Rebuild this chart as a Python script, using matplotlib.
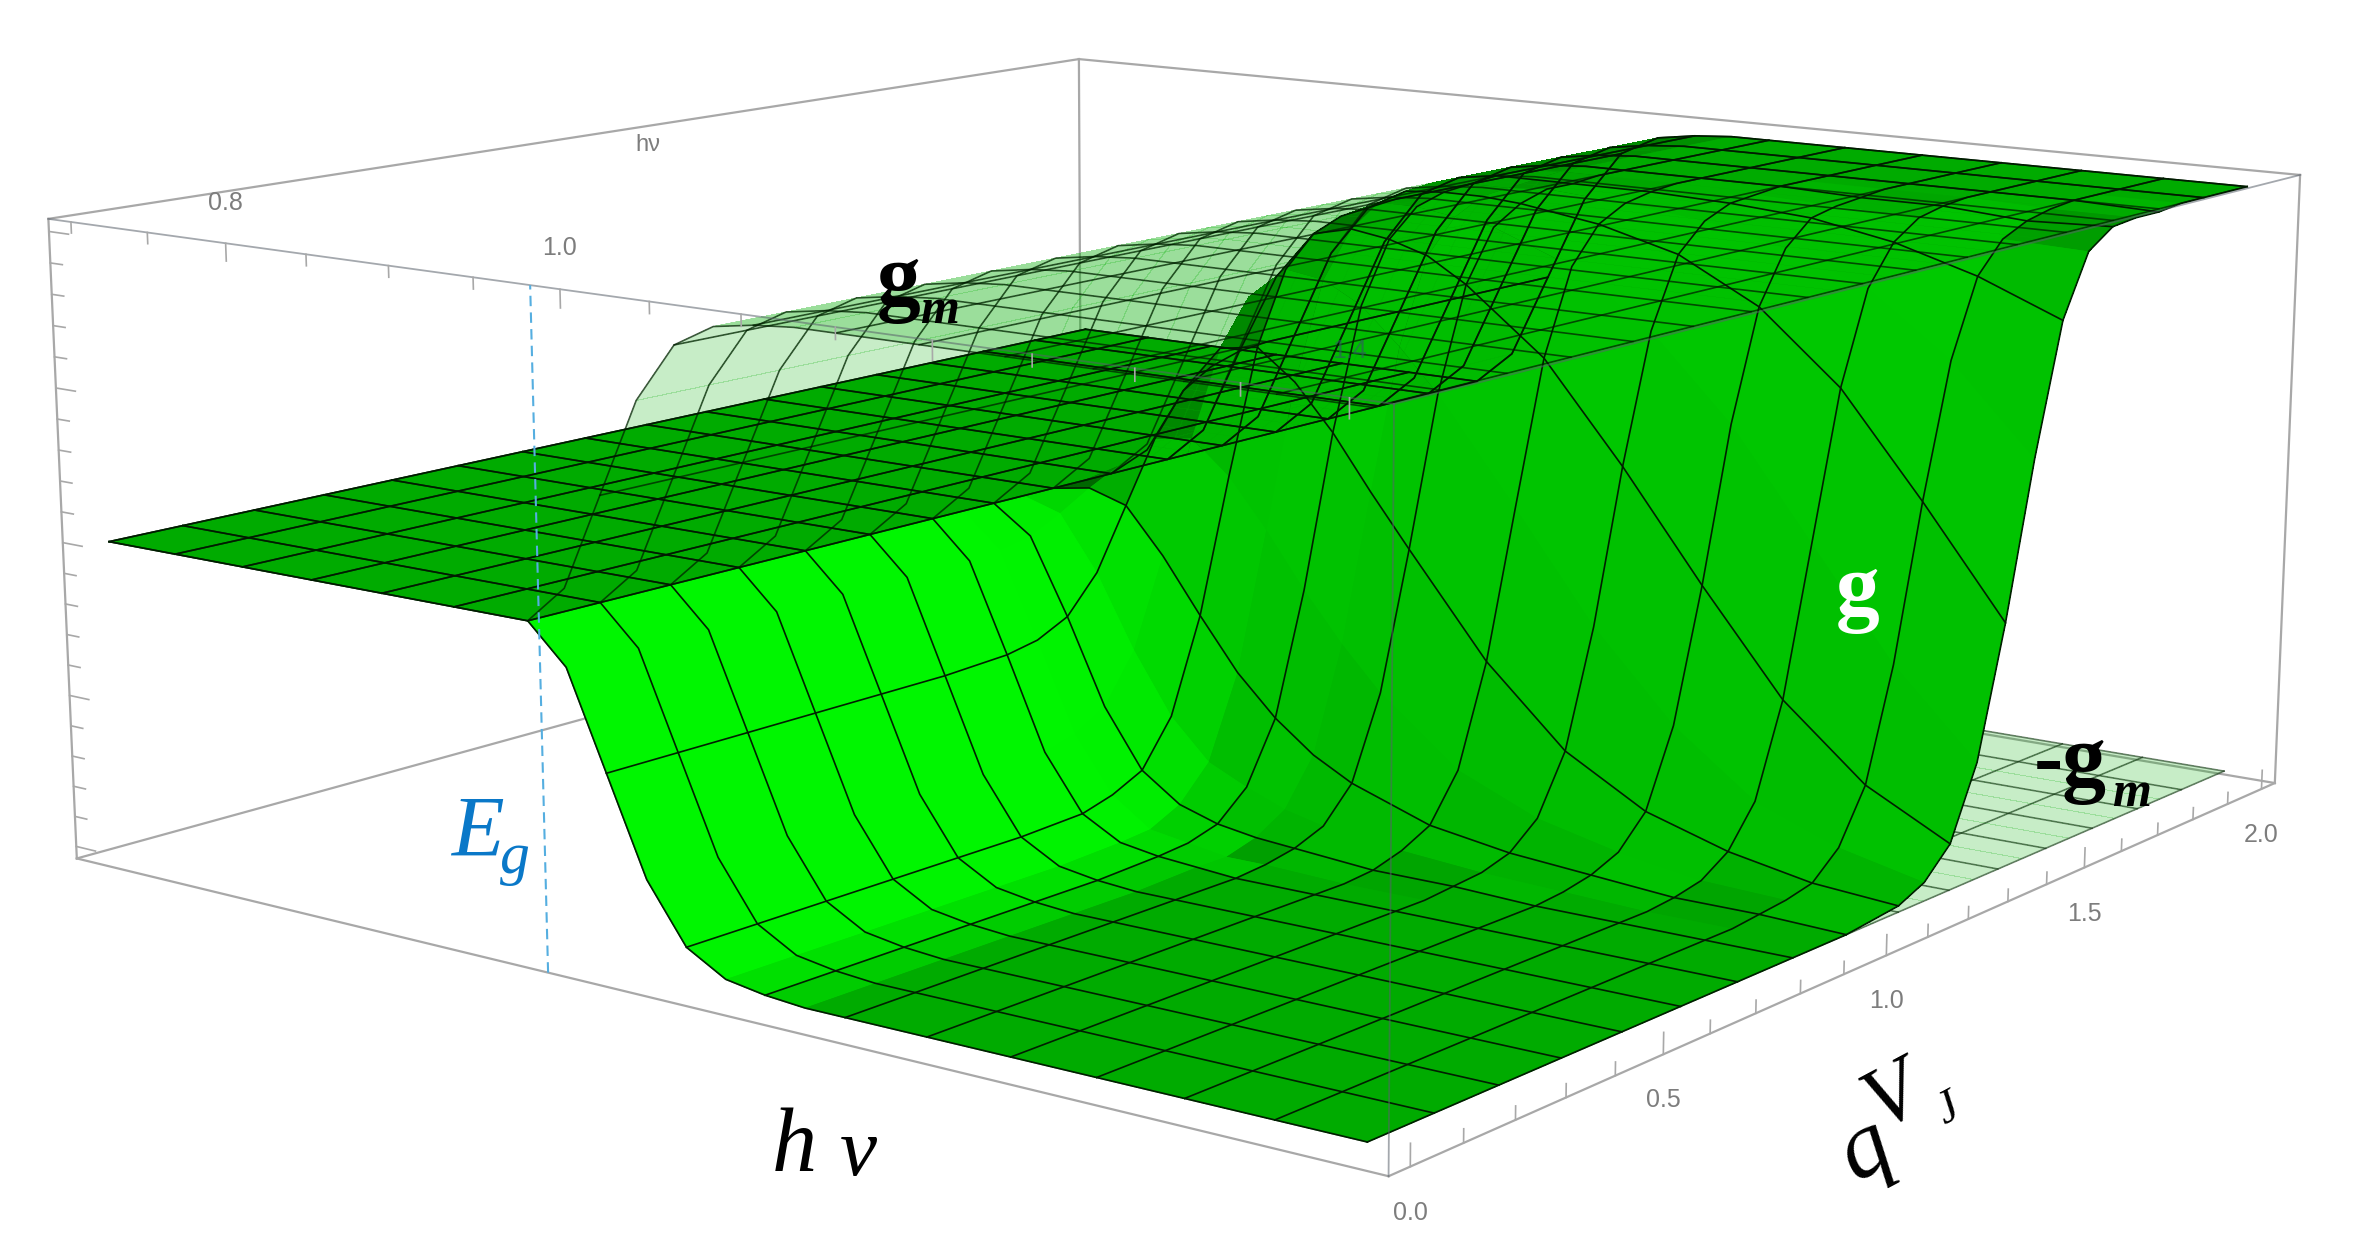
import numpy as np
import matplotlib
matplotlib.use("Agg")
import matplotlib.pyplot as plt
from matplotlib.colors import LightSource
from mpl_toolkits.mplot3d import proj3d

W, H = 2363, 1251

# mesh lines on the surfaces
hv_mesh = [0.7, 0.74375, 0.7875, 0.83125, 0.875, 0.91875, 0.9625, 1.00625, 1.05,
           1.09375, 1.1375, 1.18125, 1.225, 1.26875, 1.3125, 1.35625, 1.4]
qv_mesh = [0.0, 0.125, 0.25, 0.375, 0.5, 0.625, 0.75, 0.875, 1.0,
           1.125, 1.25, 1.375, 1.5, 1.625, 1.75, 1.875, 2.0]

# points where the surface height was read
hv_grid = [0.7, 0.74375, 0.7875, 0.83125, 0.875, 0.91875, 0.9625, 0.984375, 1.00625, 1.028125, 1.05,
           1.071875, 1.09375, 1.115625, 1.1375, 1.18125, 1.225, 1.26875, 1.3125, 1.35625, 1.4]
qv_grid = [0.0, 0.125, 0.25, 0.375, 0.5, 0.625, 0.75, 0.8125, 0.875, 0.9375, 1.0, 1.0625, 1.125, 1.1875,
           1.25, 1.3125, 1.375, 1.4375, 1.5, 1.5625, 1.625, 1.6875, 1.75, 1.8125, 1.875, 2.0]

gm_line = [0, 0, 0, 0, 0, 0, 0, 0.12, 0.42, 0.72, 0.90, 0.97, 0.99, 1, 1, 1, 1, 1, 1, 1, 1]

# g, one row per qv_grid value, columns from hv 0.984375 up; below that g stays 0
g_rows = [
    [-0.12, -0.42, -0.72, -0.90, -0.97, -0.99, -1.00, -1.00, -1.00, -1.00, -1.00, -1.00, -1.00, -1.00],
    [-0.12, -0.42, -0.72, -0.90, -0.97, -0.99, -1.00, -1.00, -1.00, -1.00, -1.00, -1.00, -1.00, -1.00],
    [-0.12, -0.42, -0.72, -0.90, -0.97, -0.99, -1.00, -1.00, -1.00, -1.00, -1.00, -1.00, -1.00, -1.00],
    [-0.12, -0.42, -0.72, -0.90, -0.97, -0.99, -1.00, -1.00, -1.00, -1.00, -1.00, -1.00, -1.00, -1.00],
    [-0.12, -0.42, -0.72, -0.90, -0.97, -0.99, -1.00, -1.00, -1.00, -1.00, -1.00, -1.00, -1.00, -1.00],
    [-0.12, -0.42, -0.72, -0.90, -0.97, -0.99, -1.00, -1.00, -1.00, -1.00, -1.00, -1.00, -1.00, -1.00],
    [-0.12, -0.41, -0.71, -0.89, -0.96, -0.98, -0.99, -1.00, -1.00, -1.00, -1.00, -1.00, -1.00, -1.00],
    [-0.11, -0.39, -0.68, -0.86, -0.95, -0.97, -0.99, -0.99, -1.00, -1.00, -1.00, -1.00, -1.00, -1.00],
    [-0.09, -0.34, -0.62, -0.81, -0.90, -0.94, -0.96, -0.97, -0.99, -0.99, -1.00, -1.00, -1.00, -1.00],
    [-0.04, -0.22, -0.46, -0.66, -0.79, -0.85, -0.90, -0.93, -0.96, -0.98, -0.99, -1.00, -1.00, -1.00],
    [0.02, -0.02, -0.17, -0.35, -0.52, -0.65, -0.75, -0.82, -0.91, -0.95, -0.97, -0.99, -0.99, -1.00],
    [0.07, 0.18, 0.20, 0.09, -0.07, -0.25, -0.41, -0.55, -0.76, -0.87, -0.93, -0.97, -0.98, -0.99],
    [0.10, 0.32, 0.48, 0.50, 0.40, 0.25, 0.07, -0.10, -0.43, -0.68, -0.83, -0.91, -0.96, -0.98],
    [0.11, 0.38, 0.63, 0.74, 0.72, 0.65, 0.53, 0.39, 0.05, -0.30, -0.58, -0.78, -0.88, -0.94],
    [0.12, 0.41, 0.68, 0.84, 0.87, 0.85, 0.81, 0.73, 0.52, 0.20, -0.15, -0.48, -0.71, -0.85],
    [0.12, 0.42, 0.71, 0.88, 0.94, 0.94, 0.92, 0.90, 0.80, 0.62, 0.35, 0.00, -0.35, -0.62],
    [0.12, 0.42, 0.72, 0.89, 0.96, 0.97, 0.97, 0.96, 0.92, 0.85, 0.71, 0.48, 0.15, -0.20],
    [0.12, 0.42, 0.72, 0.90, 0.97, 0.98, 0.98, 0.99, 0.97, 0.94, 0.88, 0.78, 0.58, 0.30],
    [0.12, 0.42, 0.72, 0.90, 0.97, 0.99, 0.99, 0.99, 0.99, 0.98, 0.96, 0.91, 0.83, 0.72],
    [0.12, 0.42, 0.72, 0.90, 0.97, 0.99, 1.00, 1.00, 1.00, 0.99, 0.98, 0.97, 0.93, 0.92],
    [0.12, 0.42, 0.72, 0.90, 0.97, 0.99, 1.00, 1.00, 1.00, 1.00, 0.99, 0.99, 0.97, 0.98],
    [0.12, 0.42, 0.72, 0.90, 0.97, 0.99, 1.00, 1.00, 1.00, 1.00, 1.00, 1.00, 0.99, 0.99],
    [0.12, 0.42, 0.72, 0.90, 0.97, 0.99, 1.00, 1.00, 1.00, 1.00, 1.00, 1.00, 1.00, 0.99],
    [0.12, 0.42, 0.72, 0.90, 0.97, 0.99, 1.00, 1.00, 1.00, 1.00, 1.00, 1.00, 1.00, 1.00],
    [0.12, 0.42, 0.72, 0.90, 0.97, 0.99, 1.00, 1.00, 1.00, 1.00, 1.00, 1.00, 1.00, 1.00],
    [0.12, 0.42, 0.72, 0.90, 0.97, 0.99, 1.00, 1.00, 1.00, 1.00, 1.00, 1.00, 1.00, 1.00],
]

hv_lim = (0.685, 1.42)
qv_lim = (-0.04, 2.04)
z_lim = (-1.04, 1.04)
eg = 0.983

hv_ticks = [0.7, 0.75, 0.8, 0.85, 0.9, 0.95, 1.0, 1.05, 1.1, 1.15, 1.2, 1.25, 1.3, 1.35, 1.4]
hv_major = [0.8, 1.0, 1.2, 1.4]
qv_ticks = [0.0, 0.1, 0.2, 0.3, 0.4, 0.5, 0.6, 0.7, 0.8, 0.9, 1.0, 1.1, 1.2, 1.3, 1.4, 1.5, 1.6, 1.7, 1.8, 1.9, 2.0]
qv_major = [0.0, 0.5, 1.0, 1.5, 2.0]
z_ticks = [-1.0, -0.9, -0.8, -0.7, -0.6, -0.5, -0.4, -0.3, -0.2, -0.1, 0.0, 0.1, 0.2, 0.3, 0.4, 0.5, 0.6, 0.7, 0.8, 0.9, 1.0]
z_major = [-1.0, -0.5, 0.0, 0.5, 1.0]

SERIF = "Liberation Serif"
SANS = "Liberation Sans"
TICK = "#7d7d7d"
BOX = "#a8a8a8"

fig = plt.figure(figsize=(W / 100, H / 100), dpi=100)
ax = fig.add_axes([0.01801, -0.33784, 0.95748, 1.80857], projection="3d", computed_zorder=False)
ax.set_xlim(*hv_lim, view_margin=0)
ax.set_ylim(*qv_lim, view_margin=0)
ax.set_zlim(*z_lim, view_margin=0)
ax.view_init(elev=11.7825, azim=-52.5502, roll=0.0156)
ax.set_proj_type("persp", focal_length=0.4412)
ax.set_box_aspect((1, 0.9967, 0.4010))
ax.set_axis_off()

hv = np.array(hv_grid)
qv = np.array(qv_grid)
X, Y = np.meshgrid(hv, qv)
Zg = np.hstack([np.zeros((len(qv_grid), len(hv_grid) - len(g_rows[0]))), np.array(g_rows)])
Zgm = np.tile(gm_line, (len(qv_grid), 1))

PALE = (0, 0.68, 0, 0.22)
light = LightSource(azdeg=64.5, altdeg=3.5)


def mesh_lines(Z, color, lw, zorder):
    for h in hv_mesh:
        i = hv_grid.index(h)
        ax.plot(X[:, i], Y[:, i], Z[:, i], color=color, lw=lw, zorder=zorder)
    for q in qv_mesh:
        j = qv_grid.index(q)
        ax.plot(X[j], Y[j], Z[j], color=color, lw=lw, zorder=zorder)


# box, the back part first
lo, hi = hv_lim
q0, q1 = qv_lim
z0, z1 = z_lim
back_edges = [((lo, lo), (q1, q1), (z0, z1)), ((lo, hi), (q1, q1), (z1, z1)), ((lo, lo), (q0, q1), (z1, z1)),
              ((lo, lo), (q0, q0), (z0, z1)), ((lo, lo), (q0, q1), (z0, z0)), ((lo, hi), (q1, q1), (z0, z0)),
              ((hi, hi), (q1, q1), (z0, z1))]
for e in back_edges:
    ax.plot(*e, color=BOX, lw=1.6, zorder=0)

ax.plot_surface(X, Y, -Zgm, rstride=1, cstride=1, color=PALE, linewidth=0, antialiased=False, shade=False, zorder=1)
mesh_lines(-Zgm, (0.1, 0.2, 0.1, 0.6), 1.2, 1.5)
# second layer with smooth edges closes the seams of the first
ax.plot_surface(X, Y, Zg, rstride=1, cstride=1, color=(0, 1, 0), linewidth=0, antialiased=False,
                shade=True, lightsource=light, zorder=2)
ax.plot_surface(X, Y, Zg, rstride=1, cstride=1, color=(0, 1, 0), linewidth=0, antialiased=True,
                shade=True, lightsource=light, zorder=2.1)
ax.plot_surface(X, Y, Zgm, rstride=1, cstride=1, color=PALE, linewidth=0, antialiased=False, shade=False, zorder=3)
mesh_lines(Zg, (0, 0.12, 0), 1.2, 4)
mesh_lines(Zgm, (0, 0.1, 0, 0.7), 1.2, 4)

# box, the front part over the surfaces
front_edges = [((lo, hi), (q0, q0), (z0, z0)), ((hi, hi), (q0, q1), (z0, z0))]
for e in front_edges:
    ax.plot(*e, color=BOX, lw=1.6, zorder=5)
over_edges = [((lo, hi), (q0, q0), (z1, z1)), ((hi, hi), (q0, q1), (z1, z1)), ((hi, hi), (q0, q0), (z0, z1))]
for e in over_edges:
    ax.plot(*e, color=(0.35, 0.38, 0.42, 0.55), lw=1.3, zorder=5)

# ticks
for h in hv_ticks:
    ax.plot([h, h], [q0, q0], [z1, z1 - (0.055 if h in hv_major else 0.035)], color=BOX, lw=1.2, zorder=5)
for q in qv_ticks:
    ax.plot([hi, hi], [q, q], [z0, z0 + (0.065 if q in qv_major else 0.04)], color=BOX, lw=1.2, zorder=5)
for z in z_ticks:
    ax.plot([lo, lo + (0.013 if z in z_major else 0.008)], [q0, q0], [z, z], color=BOX, lw=1.2, zorder=5)

# dashed line at the band gap
ax.plot([eg, eg], [q0, q0], [z0, z1], color="#55aee0", lw=1.5, ls=(0, (5, 3)), zorder=6)

M = ax.get_proj()


def tick_label(txt, h, q, z, dy, color=TICK, alpha=1.0):
    x2, y2, _ = proj3d.proj_transform(h, q, z, M)
    ax.annotate(txt, (x2, y2), xytext=(0, dy), textcoords="offset pixels", ha="center", va="center",
                fontsize=18, family=SANS, color=color, alpha=alpha, zorder=7)


for q in qv_major:
    tick_label("%.1f" % q, hi, q, z0, -46)
tick_label("0.8", 0.8, q0, z1, 40)
tick_label("1.0", 1.0, q0, z1, 41)
tick_label("1.4", 1.4, q0, z1, 47, color="#335566", alpha=0.6)


def label(x, y, txt, size, **kw):
    fig.text(x / W, 1 - y / H, txt, fontsize=size, family=SERIF, va="baseline", **kw)


fig.text(648 / W, 1 - 145 / H, "h\u03bd", fontsize=17, family=SANS, color=TICK, ha="center", va="center")

label(877, 305, "g", 63, weight="bold", color="black")
label(920, 323, "m", 36, style="italic", weight="bold", color="black")
label(2034, 786, "-g", 63, weight="bold", color="black")
label(2112, 806, "m", 36, style="italic", weight="bold", color="black")
label(1836, 615, "g", 63, weight="bold", color="white")
label(451, 856, "E", 62, style="italic", color="#0a78c8")
label(500, 873, "g", 43, style="italic", color="#0a78c8")
label(772, 1171, "h", 65, style="italic", color="black")
label(840, 1175, "\u03bd", 60, style="italic", color="black")
fig.text(1866 / W, 1 - 1150 / H, "q", fontsize=68, family=SERIF, style="italic", rotation=28,
         ha="center", va="center", rotation_mode="anchor", color="black")
fig.text(1893 / W, 1 - 1098 / H, "V", fontsize=62, family=SERIF, style="italic", rotation=28,
         ha="center", va="center", rotation_mode="anchor", color="black")
fig.text(1948 / W, 1 - 1110 / H, "J", fontsize=34, family=SERIF, style="italic", rotation=28,
         ha="center", va="center", rotation_mode="anchor", color="black")

plt.savefig("out.png", dpi=100)
